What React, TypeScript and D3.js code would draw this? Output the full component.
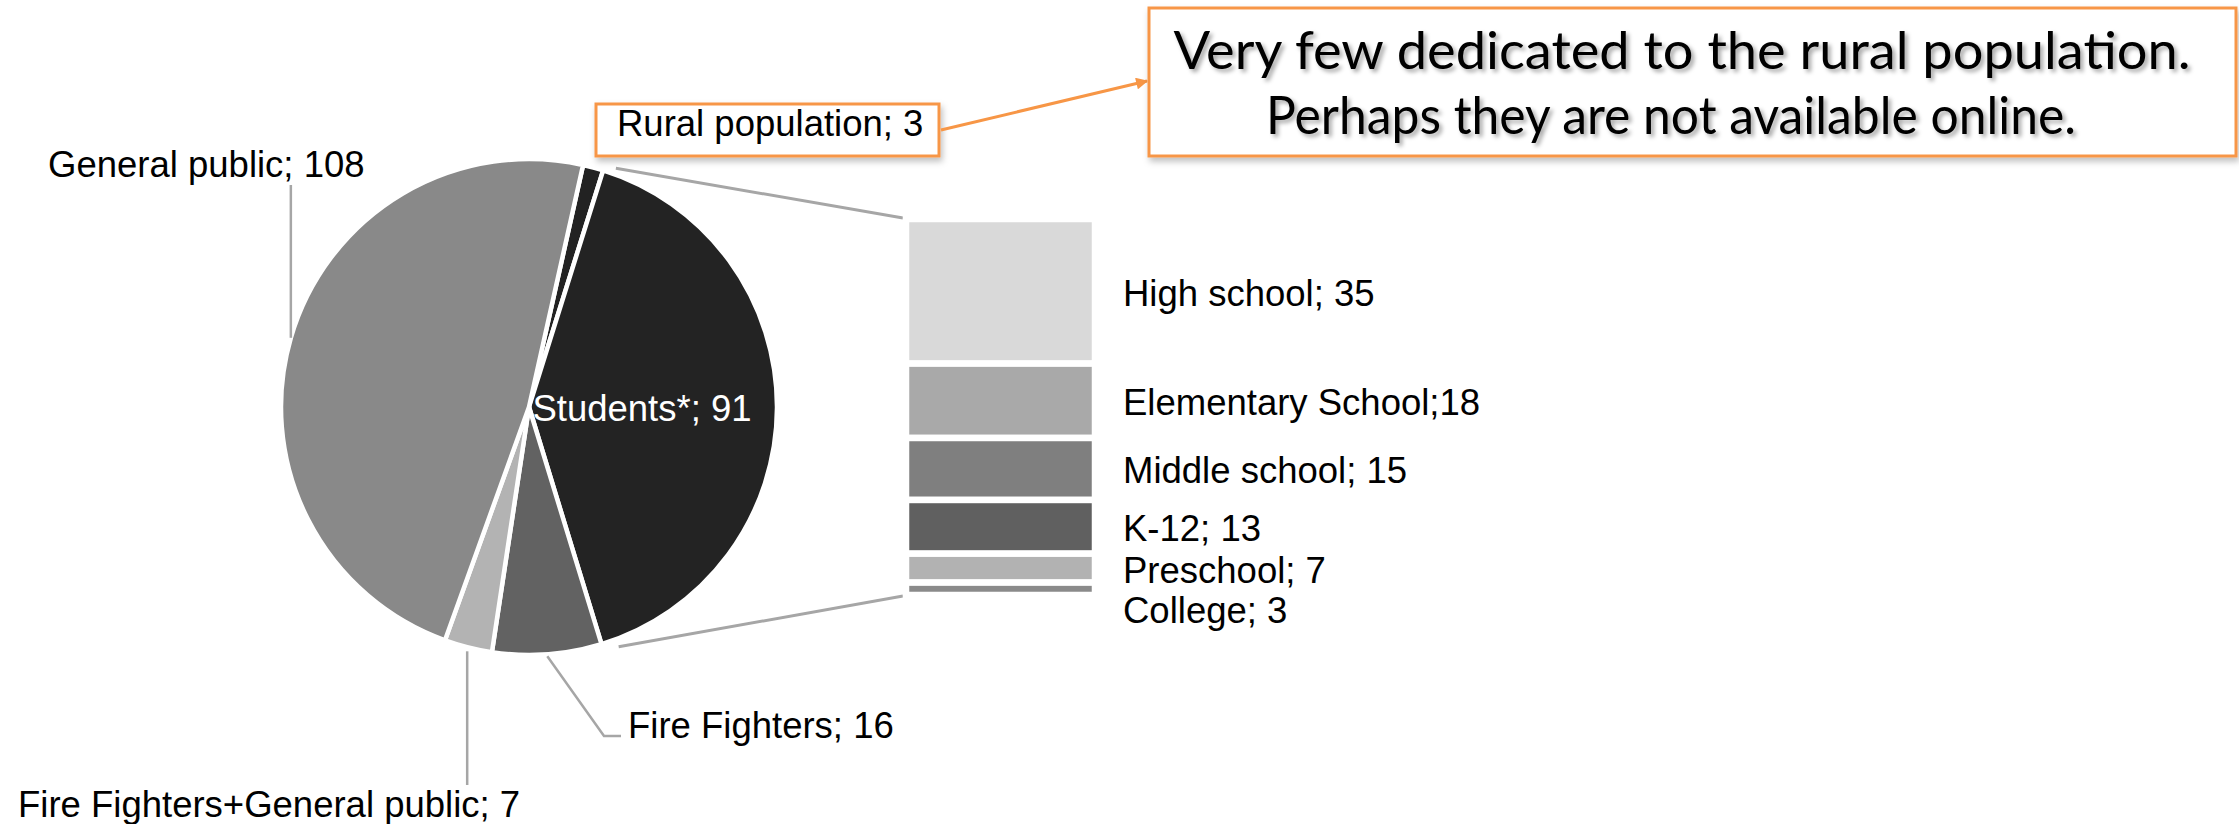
import * as d3 from "d3";

const pieNames = ["Rural population", "Students*", "Fire Fighters", "Fire Fighters+General public", "General public"];
const pieValues = [3, 91, 16, 7, 108];
const pieColors = ["#222222", "#232323", "#626262", "#b3b3b3", "#898989"];

const barNames = ["High school", "Elementary School", "Middle school", "K-12", "Preschool", "College"];
const barSeps = ["; ", ";", "; ", "; ", "; ", "; "];
const barValues = [35, 18, 15, 13, 7, 3];
const barColors = ["#d9d9d9", "#a9a9a9", "#7f7f7f", "#606060", "#b2b2b2", "#8a8a8a"];

const calloutLines = ["Very few dedicated to the rural population.", "Perhaps they are not available online."];

const W = 2239;
const H = 824;
const cx = 529;
const cy = 407;
const R = 248;
const startDeg = 12.6;
const font = "'Liberation Sans', Arial, sans-serif";
const fs = 36.5;
const orange = "#f79646";
const leader = "#a6a6a6";

export default function App() {
  const pie = d3
    .pie<number>()
    .sort(null)
    .startAngle((startDeg * Math.PI) / 180)
    .endAngle((startDeg * Math.PI) / 180 + 2 * Math.PI);
  const arcs = pie(pieValues);
  const arc = d3.arc<d3.PieArcDatum<number>>().innerRadius(0).outerRadius(R);
  const labelArc = d3.arc<d3.PieArcDatum<number>>().innerRadius(0).outerRadius(226);

  const polar = (a: number, r: number): [number, number] => [cx + r * Math.sin(a), cy - r * Math.cos(a)];
  const mid = (d: d3.PieArcDatum<number>) => (d.startAngle + d.endAngle) / 2;

  // bar of pie (students breakdown)
  const barTotal = d3.sum(barValues);
  const y = d3.scaleLinear().domain([0, barTotal]).range([219, 595]);
  const barX0 = 906;
  const barX1 = 1095;
  let acc = 0;
  let prevBase = -Infinity;
  const segs = barValues.map((v, i) => {
    const y0 = y(acc);
    acc += v;
    const y1 = y(acc);
    const base = Math.max((y0 + y1) / 2 + 14.5, prevBase + 40);
    prevBase = base;
    return { i, v, y0, y1, base };
  });

  const students = arcs[1];
  const topConn = polar(students.startAngle + (2.6 * Math.PI) / 180, R + 6);
  const botConn = polar(students.endAngle - (3.5 * Math.PI) / 180, R + 8);

  const gp = polar(mid(arcs[4]), R);
  const ff = polar(mid(arcs[2]), R + 2);
  const ffgp = polar(mid(arcs[3]), R + 4);
  const stLabel = labelArc.centroid(students);

  return (
    <svg width={W} height={H} style={{ position: "absolute", left: 0, top: 0, background: "#fff" }}>
      <defs>
        <filter id="tshadow" x="-5%" y="-20%" width="110%" height="160%">
          <feDropShadow dx="3" dy="3" stdDeviation="2" floodColor="#000" floodOpacity="0.35" />
        </filter>
        <filter id="bshadow" x="-5%" y="-20%" width="110%" height="160%">
          <feDropShadow dx="2" dy="4" stdDeviation="3" floodColor="#000" floodOpacity="0.25" />
        </filter>
        <marker id="arrow" viewBox="0 0 10 10" refX="9" refY="5" markerWidth="14" markerHeight="12" markerUnits="userSpaceOnUse" orient="auto">
          <path d="M0,0 L10,5 L0,10 z" fill={orange} />
        </marker>
      </defs>

      {/* pie */}
      <g transform={`translate(${cx},${cy})`}>
        {arcs.map((d, i) => (
          <path key={i} d={arc(d) ?? ""} fill={pieColors[i]} stroke="#fff" strokeWidth={4.5} strokeLinejoin="round" />
        ))}
        <text x={stLabel[0]} y={stLabel[1] + 14} fill="#fff" fontFamily={font} fontSize={fs} textAnchor="middle">
          {`${pieNames[1]}; ${pieValues[1]}`}
        </text>
      </g>

      {/* connectors to bar */}
      <line x1={topConn[0]} y1={topConn[1]} x2={barX0 - 3} y2={y(0) - 1} stroke={leader} strokeWidth={3} />
      <line x1={botConn[0]} y1={botConn[1]} x2={barX0 - 3} y2={y(barTotal) + 1} stroke={leader} strokeWidth={3} />

      {/* stacked bar */}
      {segs.map((s) => (
        <g key={s.i}>
          <rect x={barX0} y={s.y0} width={barX1 - barX0} height={s.y1 - s.y0} fill={barColors[s.i]} stroke="#fff" strokeWidth={6.5} />
          <text x={1123} y={s.base} fontFamily={font} fontSize={fs} fill="#000">
            {`${barNames[s.i]}${barSeps[s.i]}${s.v}`}
          </text>
        </g>
      ))}

      {/* leader lines & outside labels */}
      <line x1={gp[0]} y1={gp[1]} x2={gp[0]} y2={185} stroke={leader} strokeWidth={2.5} />
      <text x={48} y={177} fontFamily={font} fontSize={fs}>{`${pieNames[4]}; ${pieValues[4]}`}</text>

      <polyline points={`${ff[0]},${ff[1]} 604,736 621,736`} fill="none" stroke={leader} strokeWidth={2.5} />
      <text x={628} y={738} fontFamily={font} fontSize={fs}>{`${pieNames[2]}; ${pieValues[2]}`}</text>

      <line x1={ffgp[0]} y1={ffgp[1]} x2={ffgp[0]} y2={785} stroke={leader} strokeWidth={2.5} />
      <text x={18} y={817} fontFamily={font} fontSize={fs}>{`${pieNames[3]}; ${pieValues[3]}`}</text>

      {/* rural label box */}
      <rect x={596} y={104} width={343} height={52} fill="#fff" stroke={orange} strokeWidth={3} filter="url(#bshadow)" />
      <text x={617} y={136} fontFamily={font} fontSize={fs}>{`${pieNames[0]}; ${pieValues[0]}`}</text>

      {/* callout */}
      <line x1={941} y1={130} x2={1147} y2={81} stroke={orange} strokeWidth={3} markerEnd="url(#arrow)" />
      <rect x={1149} y={8} width={1087} height={148} fill="#fff" stroke={orange} strokeWidth={3} filter="url(#bshadow)" />
      <g fontFamily="Lato, 'Open Sans', sans-serif" fontSize={52} fill="#000" filter="url(#tshadow)">
        <text x={1682} y={69} textAnchor="middle" textLength={1017} lengthAdjust="spacingAndGlyphs">
          {calloutLines[0]}
        </text>
        <text x={1671} y={134} textAnchor="middle" textLength={810} lengthAdjust="spacingAndGlyphs">
          {calloutLines[1]}
        </text>
      </g>
    </svg>
  );
}
